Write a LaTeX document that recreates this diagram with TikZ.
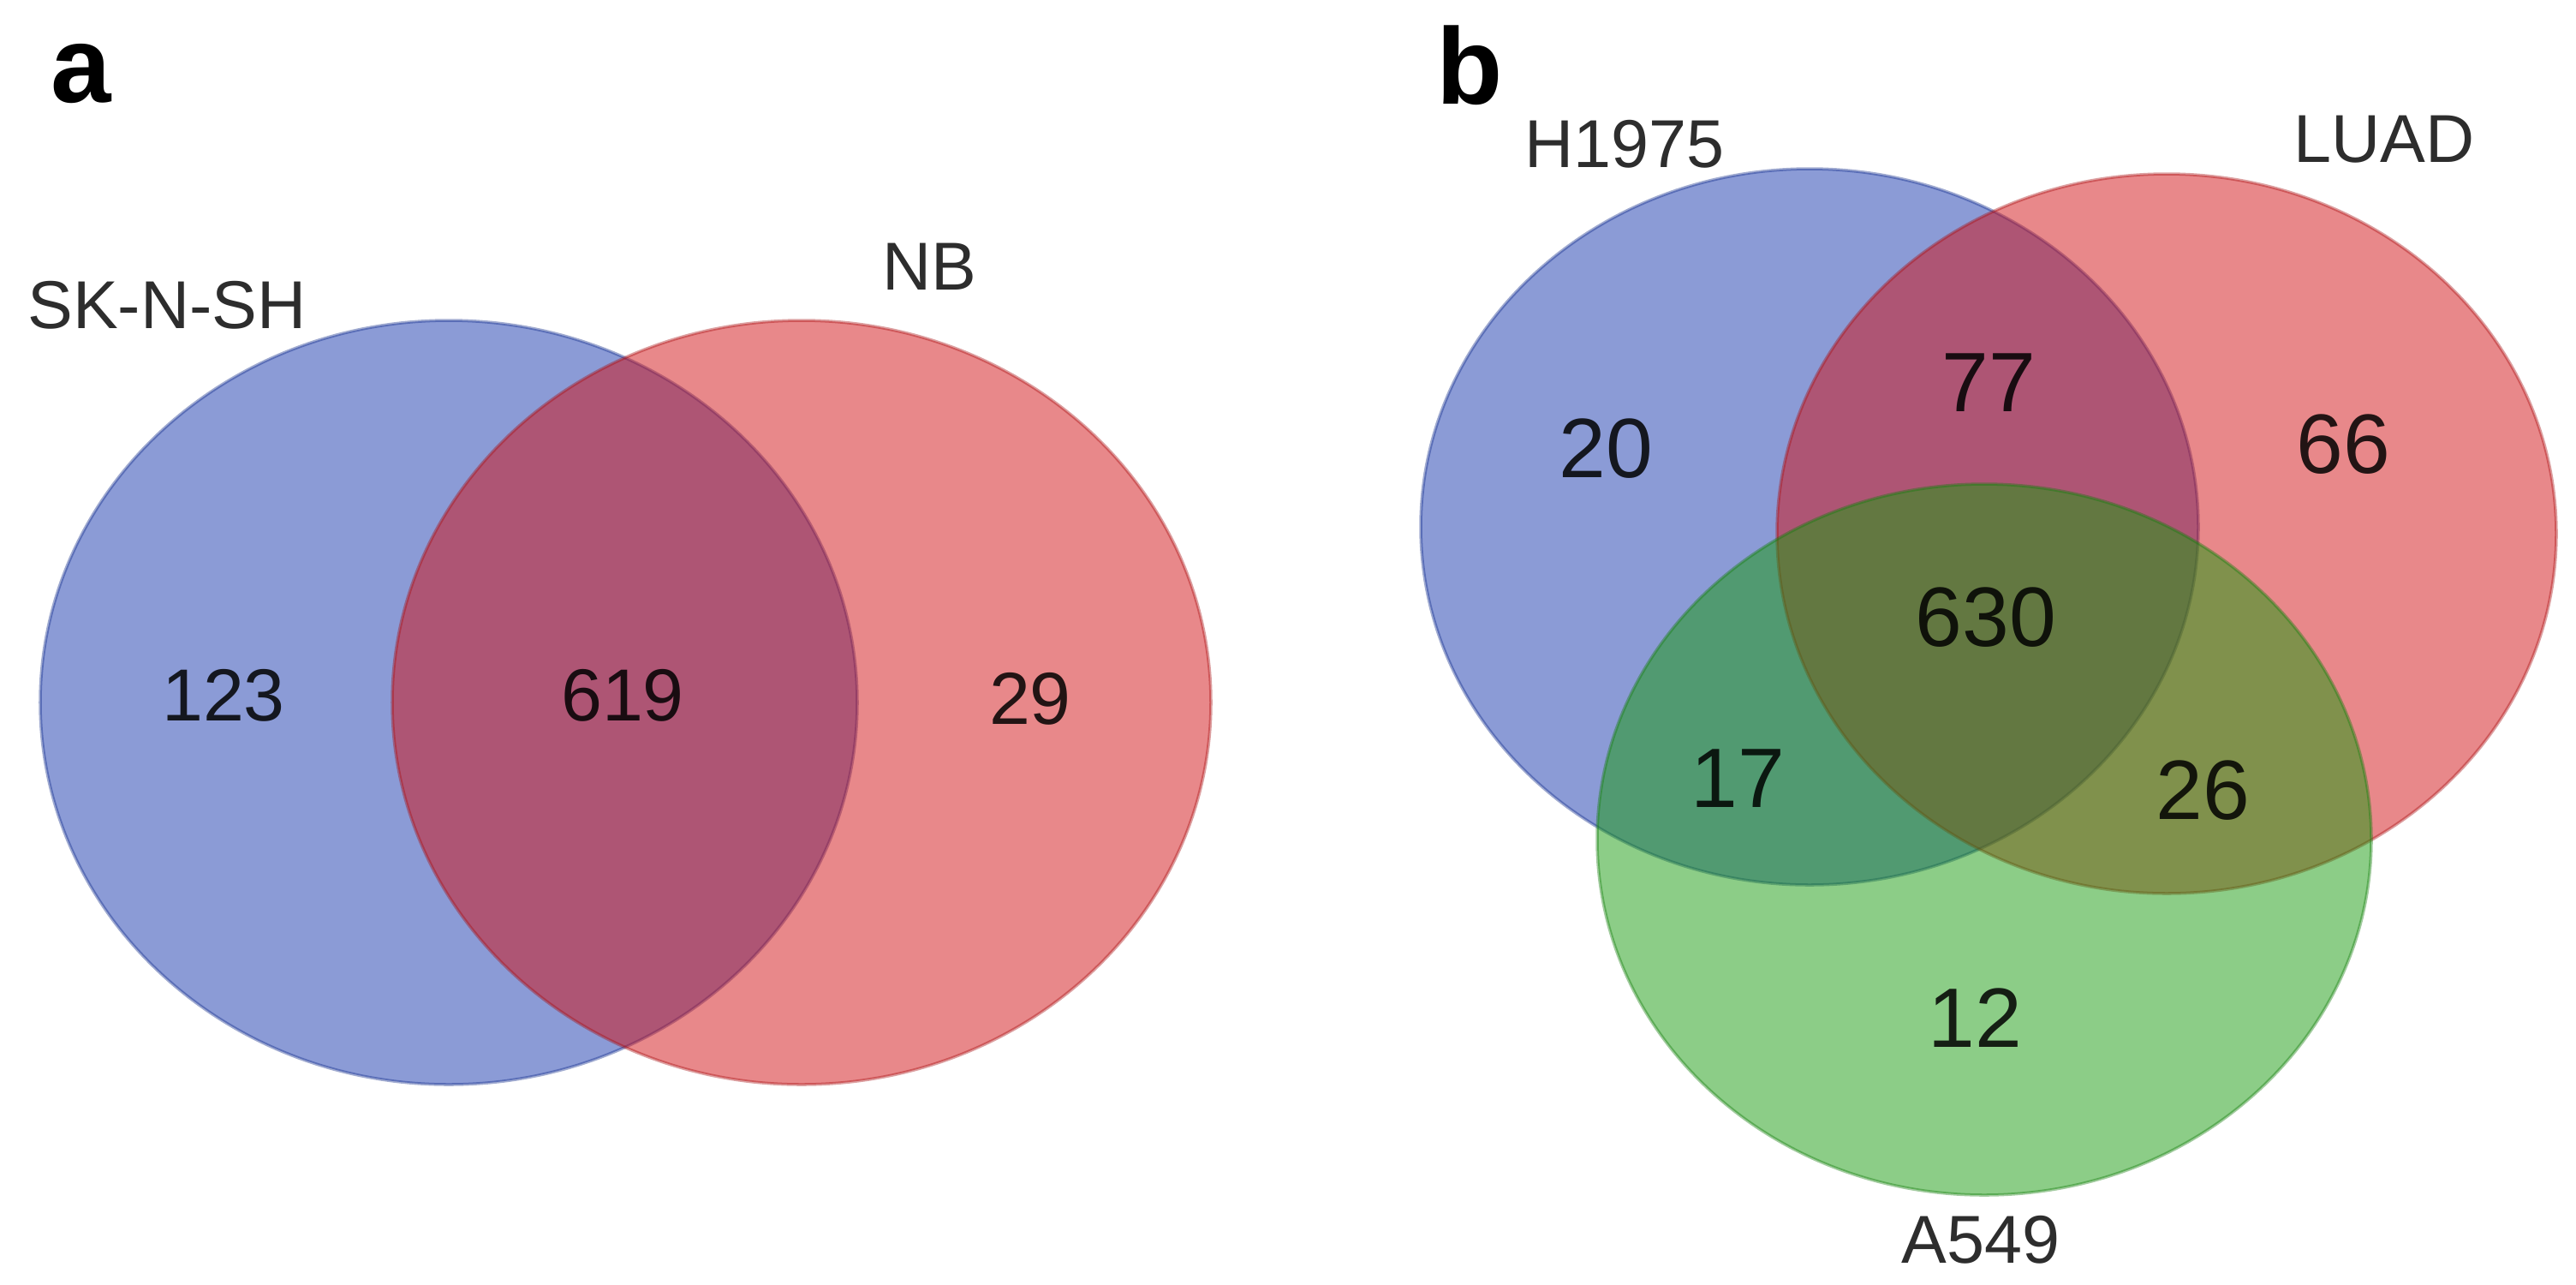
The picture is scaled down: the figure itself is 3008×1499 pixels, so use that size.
\documentclass[tikz,border=0pt]{standalone}
\usepackage{fontspec}
\setmainfont{Liberation Sans}
\definecolor{setblue}{RGB}{23,55,173}
\definecolor{setred}{RGB}{209,17,21}
\definecolor{setgreen}{RGB}{25,155,15}
\definecolor{labelcol}{RGB}{45,45,45}
\tikzset{
  setfill/.style={fill=#1,fill opacity=0.5,draw=#1!80!black,draw opacity=0.4,line width=1pt},
  setname/.style={text=labelcol,font=\fontsize{22.5}{26}\selectfont,inner sep=0pt},
  cnta/.style={text=black,text opacity=0.85,font=\fontsize{24.5}{28}\selectfont,inner sep=0pt},
  cntb/.style={text=black,text opacity=0.85,font=\fontsize{28}{32}\selectfont,inner sep=0pt},
  panel/.style={font=\bfseries\fontsize{36}{40}\selectfont,inner sep=0pt}
}
\begin{document}
\begin{tikzpicture}[x=0.01cm,y=-0.01cm]
  \useasboundingbox (0,0) rectangle (3008,1499);
  % panel a
  \coordinate (SK) at (524,820);
  \coordinate (NBc) at (936,820);
  \fill[setfill=setblue] (SK) ellipse [x radius=477, y radius=446];
  \fill[setfill=setred] (NBc) ellipse [x radius=478, y radius=446];
  \node (a) at (95,86) [panel] {a};
  \node (SKname) at (195,356) [setname] {SK-N-SH};
  \node (NBname) at (1085,311) [setname] {NB};
  \node (n123) at (261,812) [cnta] {123};
  \node (n619) at (727,812) [cnta] {619};
  \node (n29) at (1203,816) [cnta] {29};
  % panel b
  \coordinate (H) at (2113,615);
  \coordinate (LU) at (2530,623);
  \coordinate (A5) at (2317,980);
  \fill[setfill=setblue] (H) ellipse [x radius=454, y radius=418];
  \fill[setfill=setred] (LU) ellipse [x radius=455, y radius=420];
  \fill[setfill=setgreen] (A5) ellipse [x radius=452, y radius=415];
  \node (b) at (1716,76) [panel] {b};
  \node (Hname) at (1897,168) [setname] {H1975};
  \node (LUname) at (2784,163) [setname] {LUAD};
  \node (A5name) at (2313,1447) [setname] {A549};
  \node (n20) at (1875,524) [cntb] {20};
  \node (n77) at (2322,447) [cntb] {77};
  \node (n66) at (2736,519) [cntb] {66};
  \node (n630) at (2319,721) [cntb] {630};
  \node (n17) at (2029,909) [cntb] {17};
  \node (n26) at (2572,923) [cntb] {26};
  \node (n12) at (2306,1188) [cntb] {12};
\end{tikzpicture}
\end{document}
